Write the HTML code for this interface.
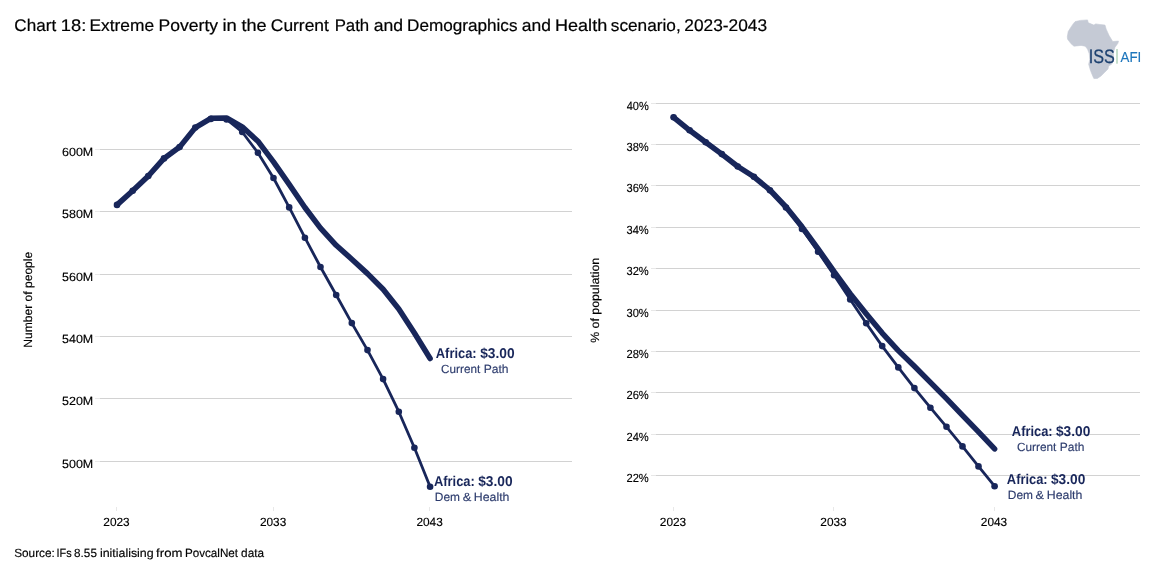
<!DOCTYPE html>
<html lang="en">
<head>
<meta charset="utf-8">
<title>Chart 18: Extreme Poverty in the Current Path and Demographics and Health scenario, 2023-2043</title>
<style>
html,body{margin:0;padding:0;background:#fff;}
body{width:1151px;height:581px;overflow:hidden;font-family:"Liberation Sans",sans-serif;}
svg{display:block;}
text{font-family:"Liberation Sans",sans-serif;text-rendering:geometricPrecision;white-space:pre;}
.t{font-size:16.8px;fill:#000;stroke:#000;stroke-width:0.2px;}
.k{font-size:11.9px;fill:#000;stroke:#000;stroke-width:0.15px;}
.b{font-size:14.2px;font-weight:bold;fill:#18265a;}
.s{font-size:11.9px;fill:#2d3c6d;stroke:#2d3c6d;stroke-width:0.15px;}
.li{font-size:19.5px;fill:#1d4170;stroke:#1d4170;stroke-width:0.3px;}
.la{font-size:14.5px;fill:#1c75bc;stroke:#1c75bc;stroke-width:0.15px;}
.g{stroke:#d2d2d2;stroke-width:1;shape-rendering:crispEdges;}
.tk{stroke:#e8e8e8;stroke-width:1;shape-rendering:crispEdges;}
.l1{fill:none;stroke:#18265a;stroke-width:5.5;stroke-linecap:round;stroke-linejoin:round;}
.l2{fill:none;stroke:#18265a;stroke-width:2.8;stroke-linecap:round;stroke-linejoin:round;}
.d{fill:#18265a;}
</style>
</head>
<body>
<svg width="1151" height="581" viewBox="0 0 1151 581">
<rect width="1151" height="581" fill="#ffffff"/>
<g id="logo">
<path fill="#c5cad5" stroke="#c5cad5" stroke-width="0.6" stroke-linejoin="round" d="M1075.2,21.6 L1080.5,20.4 L1087.5,19.9 L1088.3,22.8 L1093.9,25.1 L1095.7,23.9 L1099.8,24.5 L1105.0,25.1 L1106.2,29.2 L1109.1,35.6 L1112.7,41.5 L1118.5,41.1 L1117.9,43.3 L1115.0,47.3 L1113.5,52.6 L1113.4,60.8 L1111.5,64.3 L1108.6,66.1 L1108.0,69.0 L1105.0,71.9 L1101.0,76.0 L1097.4,78.4 L1093.9,78.6 L1092.2,74.8 L1090.4,70.2 L1088.7,64.3 L1089.8,59.6 L1089.3,53.8 L1087.5,49.1 L1085.2,46.2 L1081.1,45.4 L1074.0,46.2 L1071.1,43.8 L1067.6,39.2 L1067.3,36.8 L1068.2,31.6 L1071.1,26.9 L1073.5,23.4 Z"/>
<rect x="1116.5" y="49" width="1" height="14.7" fill="#8fc09a"/>
</g>
<g id="left">
<line class="tk" x1="95" x2="100" y1="149.5" y2="149.5"/>
<line class="g" x1="100" x2="572" y1="149.5" y2="149.5"/>
<line class="tk" x1="95" x2="100" y1="211.5" y2="211.5"/>
<line class="g" x1="100" x2="572" y1="211.5" y2="211.5"/>
<line class="tk" x1="95" x2="100" y1="274.5" y2="274.5"/>
<line class="g" x1="100" x2="572" y1="274.5" y2="274.5"/>
<line class="tk" x1="95" x2="100" y1="336.5" y2="336.5"/>
<line class="g" x1="100" x2="572" y1="336.5" y2="336.5"/>
<line class="tk" x1="95" x2="100" y1="398.5" y2="398.5"/>
<line class="g" x1="100" x2="572" y1="398.5" y2="398.5"/>
<line class="tk" x1="95" x2="100" y1="461.5" y2="461.5"/>
<line class="g" x1="100" x2="572" y1="461.5" y2="461.5"/>
<line class="tk" x1="116.5" x2="116.5" y1="507" y2="511"/>
<line class="tk" x1="273.0" x2="273.0" y1="507" y2="511"/>
<line class="tk" x1="429.6" x2="429.6" y1="507" y2="511"/>
<text class="k" transform="translate(32.0,299.8) rotate(-90)" text-anchor="middle" textLength="96" lengthAdjust="spacingAndGlyphs">Number of people</text>
<polyline class="l2" points="117.0,204.9 132.7,190.8 148.3,176.0 164.0,158.4 179.6,147.1 195.3,127.6 210.9,118.9 226.6,119.5 242.2,132.0 257.9,152.8 273.5,178.0 289.2,207.4 304.9,237.7 320.5,267.0 336.2,295.0 351.8,323.1 367.5,350.1 383.1,379.1 398.8,411.7 414.4,447.8 430.1,486.7"/>
<circle class="d" cx="117.0" cy="204.9" r="3.3"/>
<circle class="d" cx="132.7" cy="190.8" r="3.3"/>
<circle class="d" cx="148.3" cy="176.0" r="3.3"/>
<circle class="d" cx="164.0" cy="158.4" r="3.3"/>
<circle class="d" cx="179.6" cy="147.1" r="3.3"/>
<circle class="d" cx="195.3" cy="127.6" r="3.3"/>
<circle class="d" cx="210.9" cy="118.9" r="3.3"/>
<circle class="d" cx="226.6" cy="119.5" r="3.3"/>
<circle class="d" cx="242.2" cy="132.0" r="3.3"/>
<circle class="d" cx="257.9" cy="152.8" r="3.3"/>
<circle class="d" cx="273.5" cy="178.0" r="3.3"/>
<circle class="d" cx="289.2" cy="207.4" r="3.3"/>
<circle class="d" cx="304.9" cy="237.7" r="3.3"/>
<circle class="d" cx="320.5" cy="267.0" r="3.3"/>
<circle class="d" cx="336.2" cy="295.0" r="3.3"/>
<circle class="d" cx="351.8" cy="323.1" r="3.3"/>
<circle class="d" cx="367.5" cy="350.1" r="3.3"/>
<circle class="d" cx="383.1" cy="379.1" r="3.3"/>
<circle class="d" cx="398.8" cy="411.7" r="3.3"/>
<circle class="d" cx="414.4" cy="447.8" r="3.3"/>
<circle class="d" cx="430.1" cy="486.7" r="3.3"/>
<polyline class="l1" points="117.0,204.9 132.7,190.8 148.3,176.0 164.0,158.4 179.6,147.1 195.3,127.6 210.9,118.3 226.6,118.0 242.2,126.8 257.9,141.2 273.5,161.9 289.2,184.3 304.9,207.5 320.5,228.2 336.2,245.3 351.8,259.2 367.5,273.6 383.1,289.3 398.8,309.0 414.4,333.0 430.1,358.5"/>
</g>
<g id="right">
<line class="tk" x1="651" x2="656" y1="103.5" y2="103.5"/>
<line class="g" x1="656" x2="1140" y1="103.5" y2="103.5"/>
<line class="tk" x1="651" x2="656" y1="144.5" y2="144.5"/>
<line class="g" x1="656" x2="1140" y1="144.5" y2="144.5"/>
<line class="tk" x1="651" x2="656" y1="185.5" y2="185.5"/>
<line class="g" x1="656" x2="1140" y1="185.5" y2="185.5"/>
<line class="tk" x1="651" x2="656" y1="227.5" y2="227.5"/>
<line class="g" x1="656" x2="1140" y1="227.5" y2="227.5"/>
<line class="tk" x1="651" x2="656" y1="268.5" y2="268.5"/>
<line class="g" x1="656" x2="1140" y1="268.5" y2="268.5"/>
<line class="tk" x1="651" x2="656" y1="310.5" y2="310.5"/>
<line class="g" x1="656" x2="1140" y1="310.5" y2="310.5"/>
<line class="tk" x1="651" x2="656" y1="351.5" y2="351.5"/>
<line class="g" x1="656" x2="1140" y1="351.5" y2="351.5"/>
<line class="tk" x1="651" x2="656" y1="392.5" y2="392.5"/>
<line class="g" x1="656" x2="1140" y1="392.5" y2="392.5"/>
<line class="tk" x1="651" x2="656" y1="434.5" y2="434.5"/>
<line class="g" x1="656" x2="1140" y1="434.5" y2="434.5"/>
<line class="tk" x1="651" x2="656" y1="475.5" y2="475.5"/>
<line class="g" x1="656" x2="1140" y1="475.5" y2="475.5"/>
<line class="tk" x1="673.1" x2="673.1" y1="507" y2="511"/>
<line class="tk" x1="833.6" x2="833.6" y1="507" y2="511"/>
<line class="tk" x1="994.1" x2="994.1" y1="507" y2="511"/>
<text class="k" transform="translate(598.9,300.3) rotate(-90)" text-anchor="middle" textLength="85" lengthAdjust="spacingAndGlyphs">% of population</text>
<polyline class="l2" points="673.6,117.3 689.6,130.3 705.7,142.3 721.8,154.1 737.8,166.5 753.9,176.8 769.9,190.3 786.0,207.5 802.0,228.9 818.1,251.8 834.1,275.3 850.2,299.5 866.2,323.3 882.2,346.1 898.3,367.4 914.4,388.1 930.4,407.7 946.5,426.8 962.5,446.4 978.5,466.4 994.6,486.2"/>
<circle class="d" cx="673.6" cy="117.3" r="3.3"/>
<circle class="d" cx="689.6" cy="130.3" r="3.3"/>
<circle class="d" cx="705.7" cy="142.3" r="3.3"/>
<circle class="d" cx="721.8" cy="154.1" r="3.3"/>
<circle class="d" cx="737.8" cy="166.5" r="3.3"/>
<circle class="d" cx="753.9" cy="176.8" r="3.3"/>
<circle class="d" cx="769.9" cy="190.3" r="3.3"/>
<circle class="d" cx="786.0" cy="207.5" r="3.3"/>
<circle class="d" cx="802.0" cy="228.9" r="3.3"/>
<circle class="d" cx="818.1" cy="251.8" r="3.3"/>
<circle class="d" cx="834.1" cy="275.3" r="3.3"/>
<circle class="d" cx="850.2" cy="299.5" r="3.3"/>
<circle class="d" cx="866.2" cy="323.3" r="3.3"/>
<circle class="d" cx="882.2" cy="346.1" r="3.3"/>
<circle class="d" cx="898.3" cy="367.4" r="3.3"/>
<circle class="d" cx="914.4" cy="388.1" r="3.3"/>
<circle class="d" cx="930.4" cy="407.7" r="3.3"/>
<circle class="d" cx="946.5" cy="426.8" r="3.3"/>
<circle class="d" cx="962.5" cy="446.4" r="3.3"/>
<circle class="d" cx="978.5" cy="466.4" r="3.3"/>
<circle class="d" cx="994.6" cy="486.2" r="3.3"/>
<polyline class="l1" points="673.6,117.3 689.6,130.3 705.7,142.3 721.8,154.1 737.8,166.5 753.9,176.8 769.9,190.0 786.0,207.0 802.0,226.8 818.1,248.8 834.1,271.7 850.2,293.6 866.2,313.7 882.2,333.1 898.3,350.6 914.4,366.3 930.4,382.4 946.5,398.6 962.5,415.3 978.5,431.9 994.6,448.9"/>
</g>
<g id="labels">
<text class="t" y="30.75"><tspan x="14.34" textLength="41.81" lengthAdjust="spacingAndGlyphs">Chart</tspan> <tspan x="60.83" textLength="25.51" lengthAdjust="spacingAndGlyphs">18:</tspan> <tspan x="89.41" textLength="64.65" lengthAdjust="spacingAndGlyphs">Extreme</tspan> <tspan x="158.59" textLength="59.47" lengthAdjust="spacingAndGlyphs">Poverty</tspan> <tspan x="222.40" textLength="14.37" lengthAdjust="spacingAndGlyphs">in</tspan> <tspan x="241.43" textLength="25.18" lengthAdjust="spacingAndGlyphs">the</tspan> <tspan x="270.82" textLength="58.05" lengthAdjust="spacingAndGlyphs">Current</tspan> <tspan x="334.65" textLength="34.58" lengthAdjust="spacingAndGlyphs">Path</tspan> <tspan x="373.81" textLength="29.33" lengthAdjust="spacingAndGlyphs">and</tspan> <tspan x="407.02" textLength="110.49" lengthAdjust="spacingAndGlyphs">Demographics</tspan> <tspan x="521.72" textLength="29.12" lengthAdjust="spacingAndGlyphs">and</tspan> <tspan x="555.06" textLength="52.13" lengthAdjust="spacingAndGlyphs">Health</tspan> <tspan x="610.79" textLength="69.95" lengthAdjust="spacingAndGlyphs">scenario,</tspan> <tspan x="684.33" textLength="82.76" lengthAdjust="spacingAndGlyphs">2023-2043</tspan></text>
<text class="k" y="556.90"><tspan x="14.20" textLength="40.67" lengthAdjust="spacingAndGlyphs">Source:</tspan> <tspan x="56.58" textLength="15.19" lengthAdjust="spacingAndGlyphs">IFs</tspan> <tspan x="74.11" textLength="22.79" lengthAdjust="spacingAndGlyphs">8.55</tspan> <tspan x="99.92" textLength="53.73" lengthAdjust="spacingAndGlyphs">initialising</tspan> <tspan x="156.12" textLength="26.36" lengthAdjust="spacingAndGlyphs">from</tspan> <tspan x="184.92" textLength="53.18" lengthAdjust="spacingAndGlyphs">PovcalNet</tspan> <tspan x="241.11" textLength="22.90" lengthAdjust="spacingAndGlyphs">data</tspan></text>
<text class="b" y="358.00"><tspan x="435.80" textLength="40.88" lengthAdjust="spacingAndGlyphs">Africa:</tspan> <tspan x="480.16" textLength="34.39" lengthAdjust="spacingAndGlyphs">$3.00</tspan></text>
<text class="s" y="372.90"><tspan x="441.11" textLength="39.05" lengthAdjust="spacingAndGlyphs">Current</tspan> <tspan x="483.68" textLength="24.85" lengthAdjust="spacingAndGlyphs">Path</tspan></text>
<text class="b" y="485.90"><tspan x="433.95" textLength="40.88" lengthAdjust="spacingAndGlyphs">Africa:</tspan> <tspan x="478.16" textLength="34.39" lengthAdjust="spacingAndGlyphs">$3.00</tspan></text>
<text class="s" y="500.70"><tspan x="434.80" textLength="25.16" lengthAdjust="spacingAndGlyphs">Dem</tspan> <tspan x="462.66" textLength="8.54" lengthAdjust="spacingAndGlyphs">&amp;</tspan> <tspan x="473.87" textLength="35.54" lengthAdjust="spacingAndGlyphs">Health</tspan></text>
<text class="b" y="436.00"><tspan x="1011.85" textLength="40.77" lengthAdjust="spacingAndGlyphs">Africa:</tspan> <tspan x="1055.96" textLength="34.34" lengthAdjust="spacingAndGlyphs">$3.00</tspan></text>
<text class="s" y="450.90"><tspan x="1017.00" textLength="39.35" lengthAdjust="spacingAndGlyphs">Current</tspan> <tspan x="1059.89" textLength="24.63" lengthAdjust="spacingAndGlyphs">Path</tspan></text>
<text class="b" y="484.00"><tspan x="1006.85" textLength="40.77" lengthAdjust="spacingAndGlyphs">Africa:</tspan> <tspan x="1050.96" textLength="34.34" lengthAdjust="spacingAndGlyphs">$3.00</tspan></text>
<text class="s" y="498.70"><tspan x="1007.80" textLength="25.16" lengthAdjust="spacingAndGlyphs">Dem</tspan> <tspan x="1035.56" textLength="8.54" lengthAdjust="spacingAndGlyphs">&amp;</tspan> <tspan x="1046.81" textLength="35.59" lengthAdjust="spacingAndGlyphs">Health</tspan></text>
<text class="li" y="63.10"><tspan x="1088.75" textLength="26.08" lengthAdjust="spacingAndGlyphs">ISS</tspan></text>
<text class="la" y="61.70"><tspan x="1120.60" textLength="20.70" lengthAdjust="spacingAndGlyphs">AFI</tspan></text>
<text class="k" y="155.90"><tspan x="62.08" textLength="31.17" lengthAdjust="spacingAndGlyphs">600M</tspan></text>
<text class="k" y="217.90"><tspan x="62.08" textLength="31.17" lengthAdjust="spacingAndGlyphs">580M</tspan></text>
<text class="k" y="280.90"><tspan x="62.08" textLength="31.17" lengthAdjust="spacingAndGlyphs">560M</tspan></text>
<text class="k" y="342.90"><tspan x="62.08" textLength="31.17" lengthAdjust="spacingAndGlyphs">540M</tspan></text>
<text class="k" y="404.90"><tspan x="62.08" textLength="31.17" lengthAdjust="spacingAndGlyphs">520M</tspan></text>
<text class="k" y="467.90"><tspan x="62.08" textLength="31.17" lengthAdjust="spacingAndGlyphs">500M</tspan></text>
<text class="k" y="109.80"><tspan x="626.72" textLength="22.07" lengthAdjust="spacingAndGlyphs">40%</tspan></text>
<text class="k" y="150.80"><tspan x="626.48" textLength="22.31" lengthAdjust="spacingAndGlyphs">38%</tspan></text>
<text class="k" y="191.80"><tspan x="626.48" textLength="22.31" lengthAdjust="spacingAndGlyphs">36%</tspan></text>
<text class="k" y="233.80"><tspan x="626.48" textLength="22.31" lengthAdjust="spacingAndGlyphs">34%</tspan></text>
<text class="k" y="274.80"><tspan x="626.48" textLength="22.31" lengthAdjust="spacingAndGlyphs">32%</tspan></text>
<text class="k" y="316.80"><tspan x="626.48" textLength="22.31" lengthAdjust="spacingAndGlyphs">30%</tspan></text>
<text class="k" y="357.80"><tspan x="626.48" textLength="22.31" lengthAdjust="spacingAndGlyphs">28%</tspan></text>
<text class="k" y="398.80"><tspan x="626.48" textLength="22.31" lengthAdjust="spacingAndGlyphs">26%</tspan></text>
<text class="k" y="440.80"><tspan x="626.48" textLength="22.31" lengthAdjust="spacingAndGlyphs">24%</tspan></text>
<text class="k" y="481.80"><tspan x="626.48" textLength="22.31" lengthAdjust="spacingAndGlyphs">22%</tspan></text>
<text class="k" y="526.00"><tspan x="103.35" textLength="26.35" lengthAdjust="spacingAndGlyphs">2023</tspan></text>
<text class="k" y="526.00"><tspan x="259.90" textLength="26.35" lengthAdjust="spacingAndGlyphs">2033</tspan></text>
<text class="k" y="526.00"><tspan x="416.45" textLength="26.35" lengthAdjust="spacingAndGlyphs">2043</tspan></text>
<text class="k" y="526.00"><tspan x="659.80" textLength="26.35" lengthAdjust="spacingAndGlyphs">2023</tspan></text>
<text class="k" y="526.00"><tspan x="820.30" textLength="26.35" lengthAdjust="spacingAndGlyphs">2033</tspan></text>
<text class="k" y="526.00"><tspan x="980.80" textLength="26.35" lengthAdjust="spacingAndGlyphs">2043</tspan></text>
</g>
</svg>
</body>
</html>
